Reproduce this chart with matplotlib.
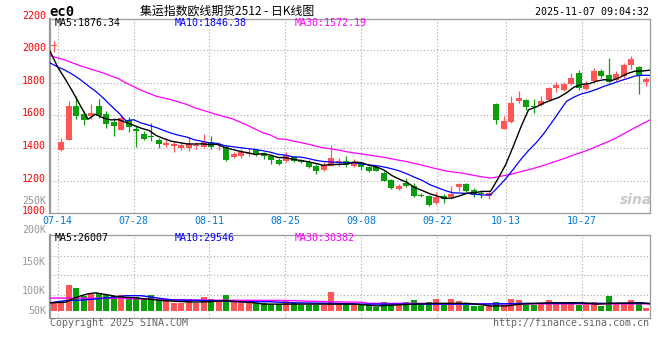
import matplotlib
matplotlib.use("Agg")
import matplotlib.pyplot as plt
from matplotlib.transforms import blended_transform_factory, ScaledTranslation

# ---------------- data ----------------
opens = [2025, 1387, 1452, 1661, 1612, 1599, 1661, 1612, 1558, 1514,
         1575, 1518, 1487, 1473, 1452, 1421, 1411, 1399, 1403, 1415,
         1407, 1436, 1420, 1407, 1344, 1350, 1366, 1391, 1370, 1354,
         1329, 1319, 1346, 1329, 1315, 1293, 1264, 1293, 1315, 1323,
         1293, 1309, 1282, 1284, 1248, 1207, 1150, 1186, 1166, 1113,
         1109, 1064, 1104, 1098, 1160, 1180, 1145, 1123, 1109, 1673,
         1520, 1558, 1687, 1693, 1659, 1667, 1698, 1769, 1759, 1796,
         1861, 1765, 1810, 1875, 1851, 1820, 1841, 1912, 1898, 1804]
highs = [2055, 1462, 1691, 1718, 1630, 1673, 1704, 1630, 1585, 1606,
         1591, 1534, 1503, 1554, 1462, 1462, 1442, 1436, 1469, 1436,
         1489, 1477, 1440, 1421, 1374, 1395, 1401, 1395, 1378, 1366,
         1338, 1378, 1354, 1336, 1325, 1301, 1315, 1421, 1340, 1350,
         1333, 1315, 1289, 1289, 1258, 1213, 1182, 1217, 1186, 1125,
         1115, 1129, 1119, 1166, 1186, 1186, 1156, 1145, 1135, 1677,
         1595, 1718, 1753, 1702, 1702, 1718, 1775, 1804, 1804, 1861,
         1882, 1810, 1892, 1886, 1953, 1871, 1922, 1963, 1906, 1836]
lows = [1990, 1381, 1448, 1579, 1544, 1579, 1585, 1522, 1473, 1514,
        1497, 1407, 1452, 1442, 1399, 1407, 1374, 1391, 1381, 1395,
        1401, 1395, 1390, 1323, 1338, 1340, 1350, 1350, 1336, 1305,
        1299, 1313, 1313, 1309, 1278, 1244, 1258, 1289, 1289, 1282,
        1284, 1264, 1252, 1258, 1197, 1150, 1145, 1162, 1098, 1098,
        1047, 1059, 1064, 1094, 1135, 1131, 1098, 1094, 1088, 1550,
        1518, 1554, 1677, 1636, 1616, 1661, 1693, 1743, 1753, 1790,
        1759, 1759, 1800, 1830, 1800, 1810, 1830, 1886, 1732, 1779]
closes = [2032, 1438, 1661, 1595, 1575, 1616, 1595, 1546, 1534, 1585,
          1530, 1505, 1458, 1468, 1426, 1432, 1426, 1419, 1428, 1421,
          1436, 1407, 1425, 1329, 1364, 1374, 1370, 1366, 1350, 1325,
          1305, 1358, 1319, 1315, 1282, 1258, 1297, 1342, 1319, 1295,
          1317, 1282, 1262, 1262, 1201, 1154, 1166, 1166, 1104, 1109,
          1053, 1098, 1090, 1119, 1180, 1135, 1115, 1119, 1125, 1571,
          1565, 1677, 1708, 1653, 1655, 1687, 1769, 1790, 1796, 1830,
          1769, 1790, 1871, 1841, 1804, 1857, 1910, 1949, 1847, 1826]

ma5 = [1994, 1898, 1824, 1745, 1660, 1577, 1608, 1585, 1573, 1575,
       1558, 1540, 1522, 1509, 1477, 1458, 1442, 1434, 1426, 1425,
       1426, 1422, 1423, 1404, 1392, 1380, 1372, 1361, 1365, 1357,
       1343, 1341, 1331, 1324, 1316, 1306, 1294, 1299, 1300, 1302,
       1314, 1311, 1295, 1284, 1265, 1232, 1209, 1190, 1158, 1140,
       1120, 1106, 1091, 1094, 1108, 1124, 1128, 1134, 1135, 1213,
       1299, 1411, 1529, 1635, 1652, 1676, 1694, 1711, 1739, 1774,
       1791, 1795, 1811, 1820, 1815, 1833, 1857, 1872, 1873, 1878]
ma10 = [1923, 1898, 1878, 1851, 1820, 1783, 1749, 1708, 1661, 1618,
        1568, 1574, 1554, 1541, 1526, 1508, 1491, 1478, 1468, 1451,
        1442, 1432, 1429, 1415, 1409, 1403, 1397, 1392, 1384, 1375,
        1362, 1357, 1346, 1345, 1336, 1325, 1318, 1315, 1312, 1309,
        1310, 1303, 1297, 1292, 1284, 1273, 1260, 1242, 1221, 1202,
        1176, 1158, 1140, 1126, 1124, 1122, 1117, 1112, 1114, 1161,
        1212, 1270, 1331, 1385, 1432, 1488, 1553, 1620, 1687, 1713,
        1733, 1745, 1761, 1780, 1795, 1812, 1826, 1842, 1847, 1846]
ma30_idx = [0, 2, 4, 5, 7, 9, 10, 12, 14, 16, 18, 19, 21, 22, 24, 26, 28,
            29, 30, 31, 32, 33, 34, 35, 36, 37, 38, 39, 40, 41, 42, 43, 44,
            45, 46, 47, 48, 49, 50, 51, 52, 53, 54, 55, 56, 57, 58, 59, 60,
            61, 62, 63, 64, 65, 66, 67, 68, 69, 70, 71, 72, 73, 74, 75, 76,
            77, 78, 79]
ma30 = [1967, 1940, 1905, 1890, 1861, 1826, 1800, 1755, 1718, 1696, 1668,
        1648, 1620, 1605, 1580, 1540, 1495,
        1481, 1457, 1454, 1443, 1434, 1424, 1412, 1402, 1395, 1388, 1378,
        1371, 1364, 1357, 1350, 1343, 1334, 1325, 1317, 1306, 1295, 1283,
        1272, 1261, 1254, 1248, 1240, 1231, 1223, 1216, 1224, 1233, 1243,
        1256, 1267, 1280, 1294, 1310, 1325, 1341, 1359, 1374, 1391, 1411,
        1430, 1450, 1474, 1499, 1525, 1549, 1573]

volumes = [30.4, 30.4, 97.6, 87.4, 57.0, 63.4, 65.9, 58.3, 55.7, 59.5,
           43.1, 53.2, 44.3, 59.5, 43.1, 40.5, 30.4, 30.4, 36.7, 27.9,
           51.9, 44.3, 34.2, 59.5, 36.7, 30.4, 30.4, 30.4, 27.9, 25.3,
           25.3, 40.5, 30.4, 21.5, 21.5, 21.5, 21.5, 71.0, 25.3, 25.3,
           25.3, 21.5, 21.5, 15.2, 32.9, 21.5, 21.5, 32.9, 40.5, 21.5,
           32.9, 44.3, 21.5, 44.3, 36.7, 21.5, 17.7, 17.7, 17.7, 32.9,
           21.5, 44.3, 40.5, 21.5, 21.5, 25.3, 40.5, 25.3, 25.3, 32.9,
           21.5, 25.3, 32.9, 17.7, 55.7, 25.3, 25.3, 40.5, 32.9, 10.1]
vma5_idx = [0, 2, 3, 4, 5, 6, 7, 8, 9, 11, 13, 15, 17, 19, 21, 23, 25, 27,
            28, 31, 37, 40, 42, 43, 45, 48, 51, 55, 57, 58, 60, 62, 66, 70,
            72, 74, 78, 79]
vma5 = [30, 32, 45, 56, 64, 68, 63, 58, 53, 49, 44, 38, 35, 33, 34, 38, 34,
        30, 25, 25, 25, 25, 21, 18, 21, 25, 28, 28, 22, 18, 18, 25, 30, 30,
        25, 28, 30, 26]
vma10_idx = [0, 2, 4, 7, 10, 12, 14, 16, 21, 25, 29, 32, 37, 41, 50, 57, 63, 79]
vma10 = [30, 38, 40, 47, 57, 57, 49, 41, 38, 34, 34, 30, 28, 25, 25, 25, 28, 28]
vma30_idx = [0, 9, 15, 22, 31, 33, 37, 41, 42, 50, 51, 79]
vma30 = [48, 47, 42, 40, 39, 37, 34, 32, 28, 28, 26, 26]

date_idx = [1, 11, 21, 31, 41, 51, 60, 70]
date_labels = ['07-14', '07-28', '08-11', '08-25', '09-08', '09-22', '10-13', '10-27']
price_ticks = [1000, 1200, 1400, 1600, 1800, 2000, 2200]
price_grid = [1200, 1400, 1600, 1800, 2000]
vol_tick_labels = ['250K', '200K', '150K', '100K', '50K']

code_text = 'ec0'
title_text = '集运指数欧线期货2512 - 日K线图'
time_text = '2025-11-07 09:04:32'
price_ma_text = ['MA5:1876.34', 'MA10:1846.38', 'MA30:1572.19']
vol_ma_text = ['MA5:26007', 'MA10:29546', 'MA30:30382']
copyright_text = 'Copyright 2025 SINA.COM'
url_text = 'http://finance.sina.com.cn'

# ---------------- styling ----------------
W, H = 660, 360
RED = '#ff5555'
GREEN = '#0a9f0a'
GRID = '#a8a8a8'
FRAME = '#999999'
MONO = 'DejaVu Sans Mono'
FS = 7.2
ma_colors = ['black', '#0000ff', '#ff00ff']
DOTS = (0, (1, 2))

fig = plt.figure(figsize=(6.6, 3.6), dpi=100)
fig.patch.set_facecolor('white')


def fx(x):
    return x / W


def fy(y):
    return 1 - y / H


ax = fig.add_axes([fx(50), fy(213.3), 600 / W, (213.3 - 19) / H])
axv = fig.add_axes([fx(50), fy(318.3), 600 / W, (318.3 - 234.7) / H])

n = len(closes)
xs = list(range(n))


def line_x(idx):
    # moving-average lines and date grid span the full panel width
    return [k * n / (n - 1) - 0.5 for k in idx]


cols = [RED if c >= o else GREEN for o, c in zip(opens, closes)]

# grid
for v in price_grid:
    ax.axhline(v, color=GRID, lw=0.8, ls=DOTS, zorder=0)
for gx in line_x(date_idx):
    ax.axvline(gx, color=GRID, lw=0.8, ls=DOTS, zorder=0)
    axv.axvline(gx, color=GRID, lw=0.8, ls=DOTS, zorder=0)

# candles
ax.vlines(xs, lows, highs, colors=cols, lw=0.9, zorder=2)
bottoms = [min(o, c) for o, c in zip(opens, closes)]
heights = [max(abs(c - o), 6) for o, c in zip(opens, closes)]
ax.bar(xs, heights, bottom=bottoms, width=0.76, color=cols, linewidth=0, zorder=3)

# moving averages
ax.plot(line_x(ma30_idx), ma30, color=ma_colors[2], lw=0.9, zorder=4)
ax.plot(line_x(range(n)), ma10, color=ma_colors[1], lw=0.9, zorder=4)
ax.plot(line_x(range(n)), ma5, color=ma_colors[0], lw=1.0, zorder=5)

ax.set_xlim(-0.5, n - 0.5)
ax.set_ylim(1000, 2192)

# volume
for v in [58.5, 134.5, 209]:
    axv.axhline(v, color=GRID, lw=0.8, ls=DOTS, zorder=0)
axv.bar(xs, volumes, width=0.8, color=cols, linewidth=0, zorder=2)
axv.plot(line_x(vma30_idx), vma30, color=ma_colors[2], lw=1.0, zorder=3)
axv.plot(line_x(vma10_idx), vma10, color=ma_colors[1], lw=1.0, zorder=3)
axv.plot(line_x(vma5_idx), vma5, color=ma_colors[0], lw=1.0, zorder=4)
axv.set_xlim(-0.5, n - 0.5)
axv.set_ylim(-28.9, 288.8)

for a in (ax, axv):
    a.tick_params(left=False, bottom=False, labelleft=False, labelbottom=False)
    for s in a.spines.values():
        s.set_color(FRAME)
        s.set_linewidth(0.9)
    a.spines['left'].set_linewidth(1.6)
    a.set_facecolor('white')

# price labels
tr = blended_transform_factory(ax.transAxes, ax.transData) + \
    ScaledTranslation(0, 0.02, fig.dpi_scale_trans)
for v in price_ticks:
    ax.text(-4 / 600, v, str(v), transform=tr, ha='right', va='center',
            color='#ff0000', family=MONO, fontsize=FS, clip_on=False)

# date labels
trd = blended_transform_factory(ax.transData, ax.transAxes)
for gx, lab in zip(line_x(date_idx), date_labels):
    ax.text(gx, -7.2 / 194.3, lab, transform=trd, ha='center', va='center',
            color='#0078d7', family=MONO, fontsize=FS, clip_on=False)

# volume labels (as placed by the source chart)
for lab, yy in zip(vol_tick_labels, [200.8, 230.3, 261.7, 291.0, 310.8]):
    fig.text(fx(46), fy(yy), lab, ha='right', va='center', color='#999999',
             family=MONO, fontsize=FS)

# header texts
fig.text(fx(49), fy(11.5), code_text, ha='left', va='center', family=MONO,
         weight='bold', fontsize=10, color='black')
fig.text(fx(140), fy(11), title_text, ha='left', va='center',
         family=['Noto Sans CJK SC', 'DejaVu Sans'], fontsize=8.6, color='black')
fig.text(fx(649), fy(12), time_text, ha='right', va='center', family=MONO,
         fontsize=FS, color='black')

for t, xx, c in zip(price_ma_text, [55, 175, 295], ma_colors):
    fig.text(fx(xx), fy(23.5), t, ha='left', va='center', family=MONO,
             fontsize=FS, color=c)
for t, xx, c in zip(vol_ma_text, [55, 175, 295], ma_colors):
    fig.text(fx(xx), fy(238.3), t, ha='left', va='center', family=MONO,
             fontsize=FS, color=c)

fig.text(fx(50), fy(323.3), copyright_text, ha='left', va='center', family=MONO,
         fontsize=FS, color='#666666')
fig.text(fx(649), fy(323.3), url_text, ha='right', va='center', family=MONO,
         fontsize=FS, color='#666666')

# watermark
fig.text(fx(636), fy(200), 'sina', ha='center', va='center', color='#c8c8c8',
         style='italic', weight='bold', fontsize=10)

fig.savefig('out.png', dpi=100)
